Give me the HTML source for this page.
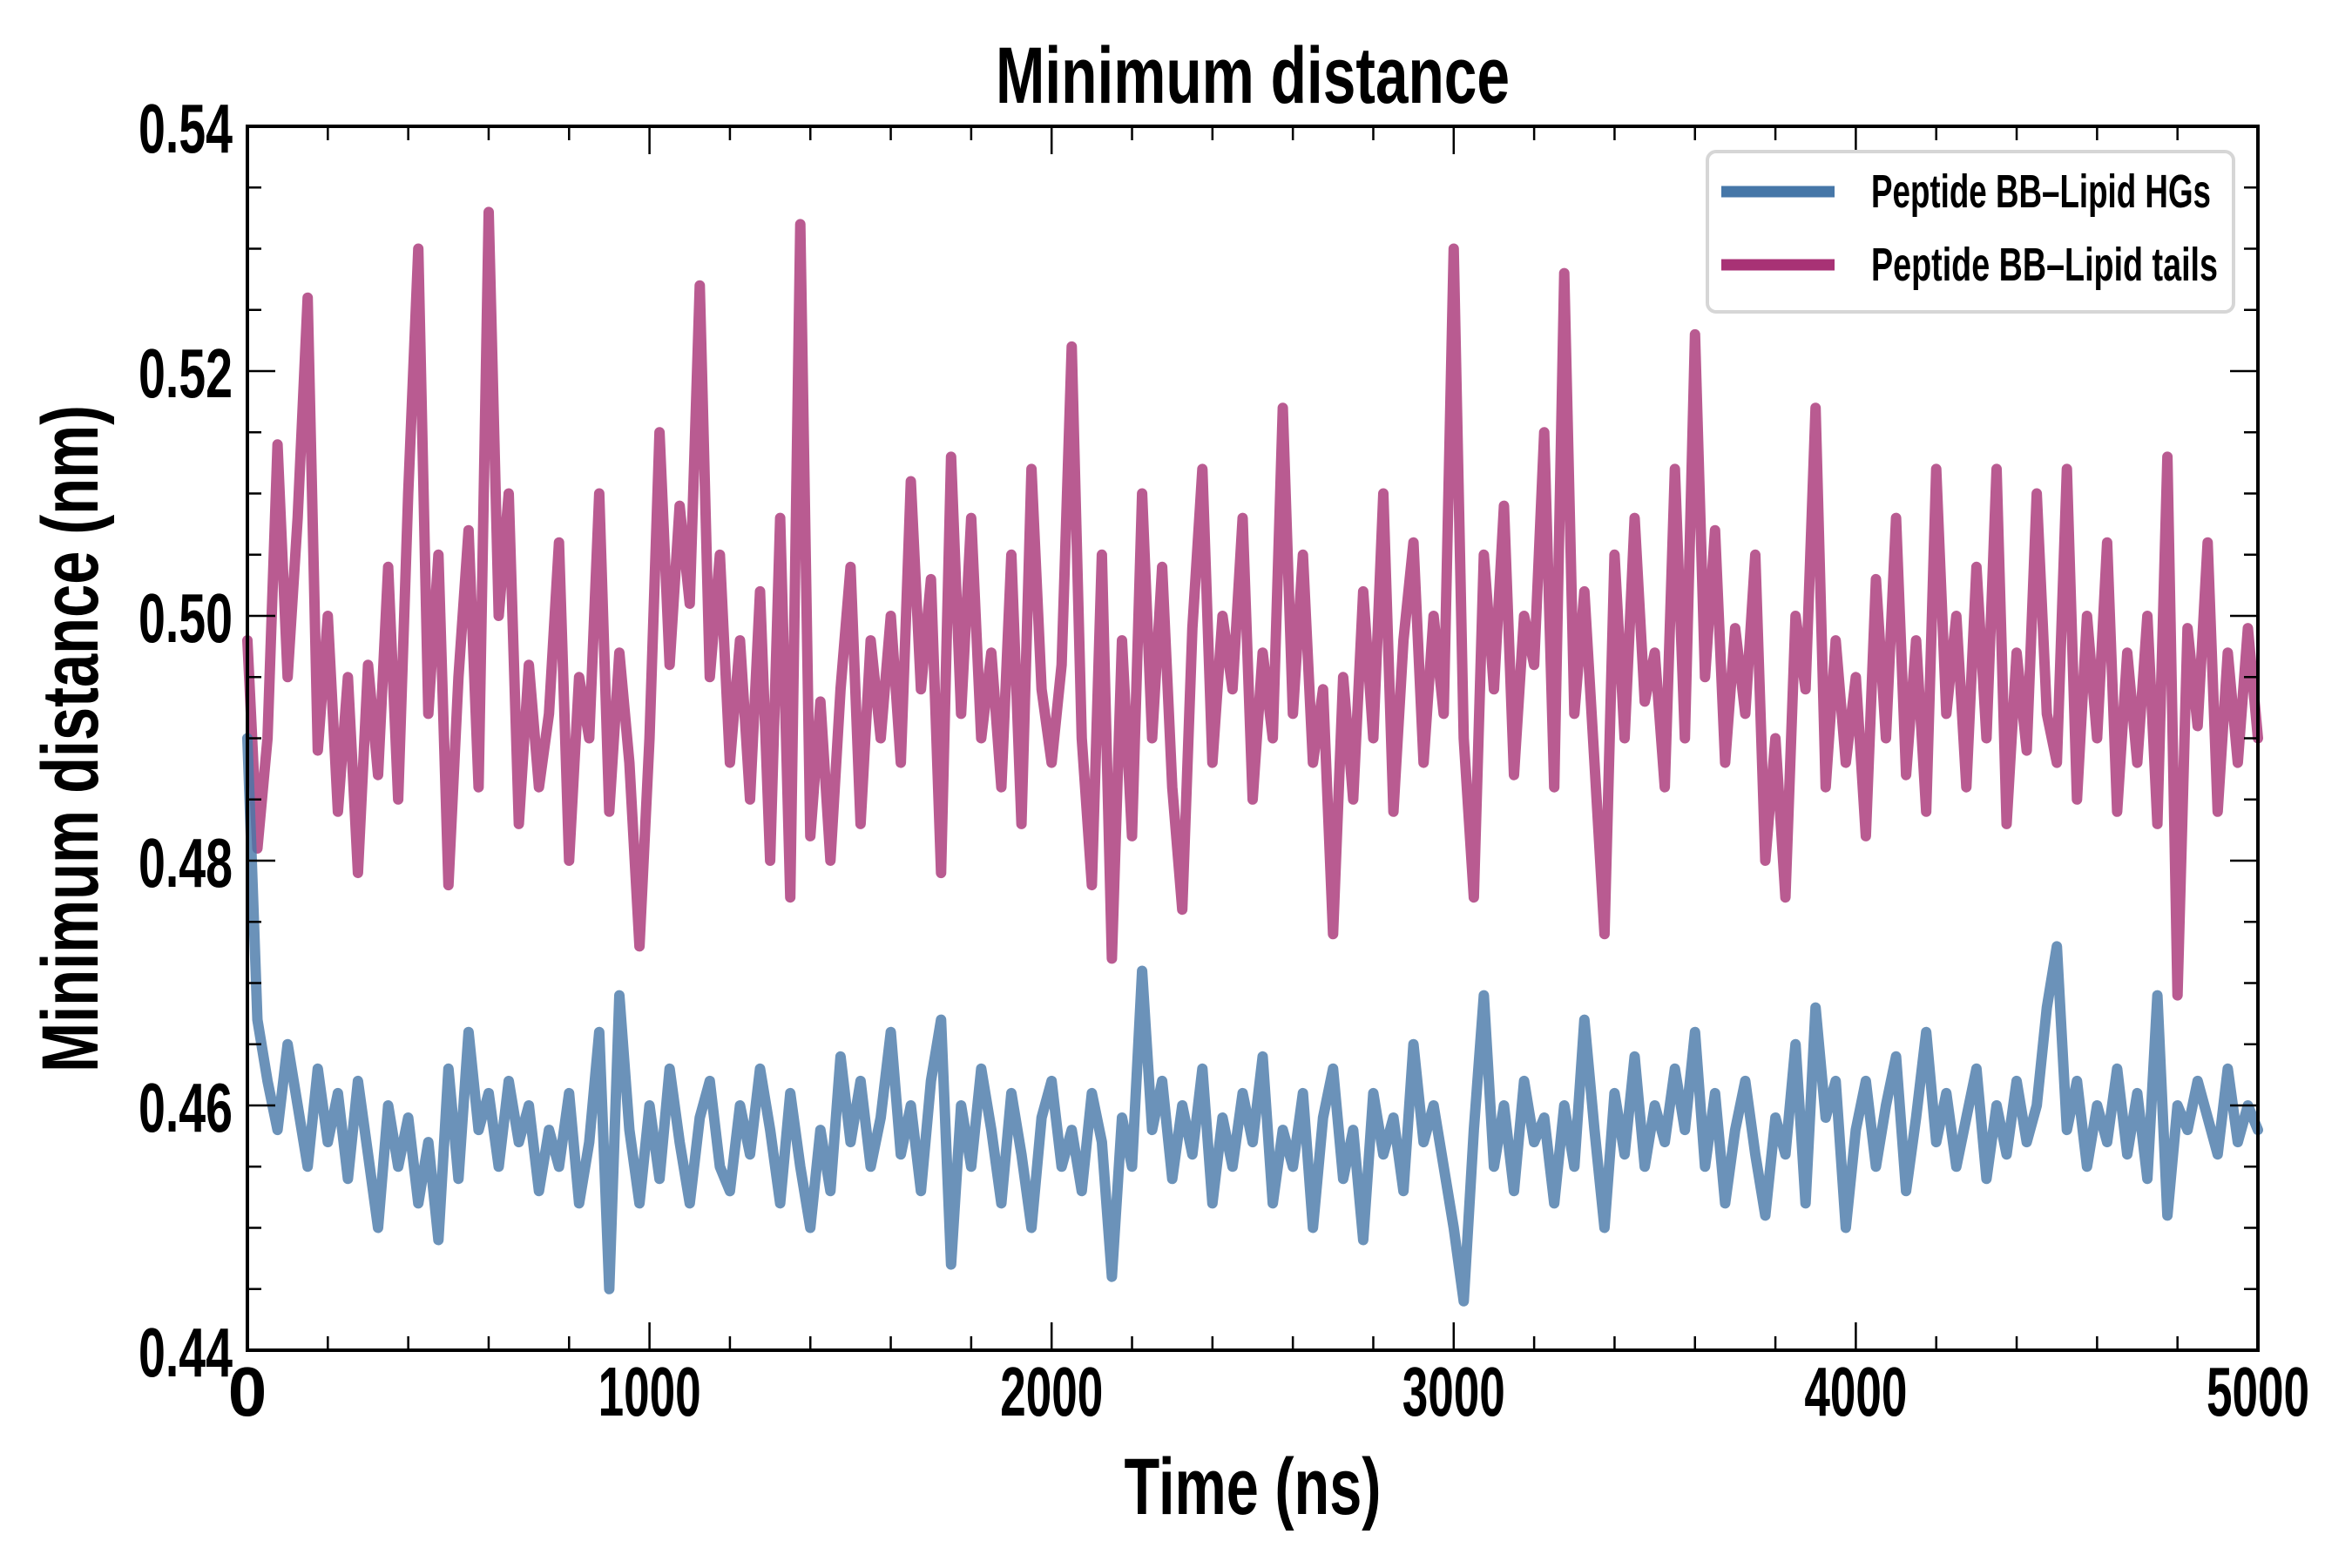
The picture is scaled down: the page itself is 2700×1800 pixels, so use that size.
<!DOCTYPE html>
<html><head><meta charset="utf-8"><style>
html,body{margin:0;padding:0;background:#fff}
svg{display:block}
text{font-family:"Liberation Sans Narrow","Liberation Sans",sans-serif;font-weight:bold;fill:#000}
</style></head><body>
<svg id="chart" width="2700" height="1800" viewBox="0 0 2700 1800" xmlns="http://www.w3.org/2000/svg">
<text x="1438" y="118" font-size="92" text-anchor="middle" textLength="590" lengthAdjust="spacingAndGlyphs">Minimum distance</text>
<text x="1438" y="1738" font-size="92" text-anchor="middle" textLength="295" lengthAdjust="spacingAndGlyphs">Time (ns)</text>
<text transform="translate(112,848) rotate(-90)" font-size="92" text-anchor="middle" textLength="766" lengthAdjust="spacingAndGlyphs">Minimum distance (nm)</text>
<g id="plot"></g>
<g id="legend">
<rect x="1960" y="174" width="604" height="184" rx="10" fill="#fff" stroke="#d6d6d6" stroke-width="4"/>
<line x1="1976" y1="220" x2="2106" y2="220" stroke="#4677a8" stroke-width="13"/>
<text x="2148" y="238" font-size="54" textLength="390" lengthAdjust="spacingAndGlyphs">Peptide BB–Lipid HGs</text>
<line x1="1976" y1="304" x2="2106" y2="304" stroke="#a83275" stroke-width="13"/>
<text x="2148" y="322" font-size="54" textLength="398" lengthAdjust="spacingAndGlyphs">Peptide BB–Lipid tails</text>
</g>
</svg>
<script>
const xTicks = [0,1000,2000,3000,4000,5000];
const yTicks = [0.44,0.46,0.48,0.50,0.52,0.54];
const yTickLabels = ["0.44","0.46","0.48","0.50","0.52","0.54"];
const timeStep = 25;
const tailsValues = [0.498,0.481,0.490,0.514,0.495,0.508,0.526,0.489,0.500,0.484,0.495,0.479,0.496,0.487,0.504,0.485,0.510,0.530,0.492,0.505,
0.478,0.495,0.507,0.486,0.533,0.500,0.510,0.483,0.496,0.486,0.492,0.506,0.480,0.495,0.490,0.510,0.484,0.497,0.488,0.473,
0.490,0.515,0.496,0.509,0.501,0.527,0.495,0.505,0.488,0.498,0.485,0.502,0.480,0.508,0.477,0.532,0.482,0.493,0.480,0.494,
0.504,0.483,0.498,0.490,0.500,0.488,0.511,0.494,0.503,0.479,0.513,0.492,0.508,0.490,0.497,0.486,0.505,0.483,0.512,0.494,
0.488,0.496,0.522,0.490,0.478,0.505,0.472,0.498,0.482,0.510,0.490,0.504,0.486,0.476,0.499,0.512,0.488,0.500,0.494,0.508,
0.485,0.497,0.490,0.517,0.492,0.505,0.488,0.494,0.474,0.495,0.485,0.502,0.490,0.510,0.484,0.498,0.506,0.488,0.500,0.492,
0.530,0.490,0.477,0.505,0.494,0.509,0.487,0.500,0.496,0.515,0.486,0.528,0.492,0.502,0.488,0.474,0.505,0.490,0.508,0.493,
0.497,0.486,0.512,0.490,0.523,0.495,0.507,0.488,0.499,0.492,0.505,0.480,0.490,0.477,0.500,0.494,0.517,0.486,0.498,0.488,
0.495,0.482,0.503,0.490,0.508,0.487,0.498,0.484,0.512,0.492,0.500,0.486,0.504,0.490,0.512,0.483,0.497,0.489,0.510,0.492,
0.488,0.512,0.485,0.500,0.490,0.506,0.484,0.497,0.488,0.500,0.483,0.513,0.469,0.499,0.491,0.506,0.484,0.497,0.488,0.499,0.490];
const hgsValues = [0.490,0.467,0.462,0.458,0.465,0.460,0.455,0.463,0.457,0.461,0.454,0.462,0.456,0.450,0.460,0.455,0.459,0.452,0.457,0.449,
0.463,0.454,0.466,0.458,0.461,0.455,0.462,0.457,0.460,0.453,0.458,0.455,0.461,0.452,0.457,0.466,0.445,0.469,0.458,0.452,
0.460,0.454,0.463,0.457,0.452,0.459,0.462,0.455,0.453,0.460,0.456,0.463,0.458,0.452,0.461,0.455,0.450,0.458,0.453,0.464,
0.457,0.462,0.455,0.459,0.466,0.456,0.460,0.453,0.462,0.467,0.447,0.460,0.455,0.463,0.458,0.452,0.461,0.456,0.450,0.459,
0.462,0.455,0.458,0.453,0.461,0.457,0.446,0.459,0.455,0.471,0.458,0.462,0.454,0.460,0.456,0.463,0.452,0.459,0.455,0.461,
0.457,0.464,0.452,0.458,0.455,0.461,0.450,0.459,0.463,0.454,0.458,0.449,0.461,0.456,0.459,0.453,0.465,0.457,0.460,0.455,
0.450,0.444,0.458,0.469,0.455,0.460,0.453,0.462,0.457,0.459,0.452,0.460,0.455,0.467,0.458,0.450,0.461,0.456,0.464,0.455,
0.460,0.457,0.463,0.458,0.466,0.455,0.461,0.452,0.458,0.462,0.456,0.451,0.459,0.456,0.465,0.452,0.468,0.459,0.462,0.450,
0.458,0.462,0.455,0.460,0.464,0.453,0.459,0.466,0.457,0.461,0.455,0.459,0.463,0.454,0.460,0.456,0.462,0.457,0.460,0.468,
0.473,0.458,0.462,0.455,0.460,0.457,0.463,0.456,0.461,0.454,0.469,0.451,0.460,0.458,0.462,0.459,0.456,0.463,0.457,0.460,0.458];

const L=284, R=2592, T=145, B=1550;
const xMin=0,xMax=5000,yMin=0.44,yMax=0.54;
function sx(v){return L+(v-xMin)/(xMax-xMin)*(R-L);}
function sy(v){return B-(v-yMin)/(yMax-yMin)*(B-T);}
const NS="http://www.w3.org/2000/svg";
const plot=document.getElementById('plot');
function mk(tag,attrs){const e=document.createElementNS(NS,tag);for(const k in attrs)e.setAttribute(k,attrs[k]);return e;}

function series(vals,color,name){
  let d='';
  vals.forEach((v,i)=>{d+=(i?'L':'M')+sx(i*timeStep).toFixed(1)+','+sy(v).toFixed(1);});
  const p=mk('path',{d:d,fill:'none',stroke:color,'stroke-width':12,'stroke-opacity':0.8,'stroke-linejoin':'round','stroke-linecap':'round'});
  
  
  plot.appendChild(p);
}
series(tailsValues,'#a83275','series-lipid-tails');
series(hgsValues,'#4677a8','series-lipid-hgs');

for(let x=0;x<=5000;x+=200){
  const major = x%1000===0; const len = major?32:16; const X=sx(x);
  const t1=mk('line',{x1:X,y1:B,x2:X,y2:B-len,stroke:'#000','stroke-width':2.5});
  
  
  plot.appendChild(t1);
  const t2=mk('line',{x1:X,y1:T,x2:X,y2:T+len,stroke:'#000','stroke-width':2.5});
  
  
  plot.appendChild(t2);
}
for(let k=0;k<=20;k++){
  const v=0.44+k*0.005; const major=k%4===0; const len=major?32:16; const Y=sy(v);
  const t1=mk('line',{x1:L,y1:Y,x2:L+len,y2:Y,stroke:'#000','stroke-width':2.5});
  
  
  plot.appendChild(t1);
  const t2=mk('line',{x1:R,y1:Y,x2:R-len,y2:Y,stroke:'#000','stroke-width':2.5});
  
  
  plot.appendChild(t2);
}
xTicks.forEach(v=>{
  const s=String(v);
  const attrs={x:sx(v),y:1625,'font-size':80,'text-anchor':'middle'};
  if(s.length>1){attrs.textLength=118;attrs.lengthAdjust='spacingAndGlyphs';}
  const t=mk('text',attrs);
  t.textContent=s;
  
  
  plot.appendChild(t);
});
yTicks.forEach((v,i)=>{
  const t=mk('text',{x:267,y:sy(v)+30,'font-size':80,'text-anchor':'end',textLength:108,lengthAdjust:'spacingAndGlyphs'});
  t.textContent=yTickLabels[i];
  
  
  plot.appendChild(t);
});
const frame=mk('rect',{x:L,y:T,width:R-L,height:B-T,fill:'none',stroke:'#000','stroke-width':4});


plot.appendChild(frame);
</script>
</body></html>
